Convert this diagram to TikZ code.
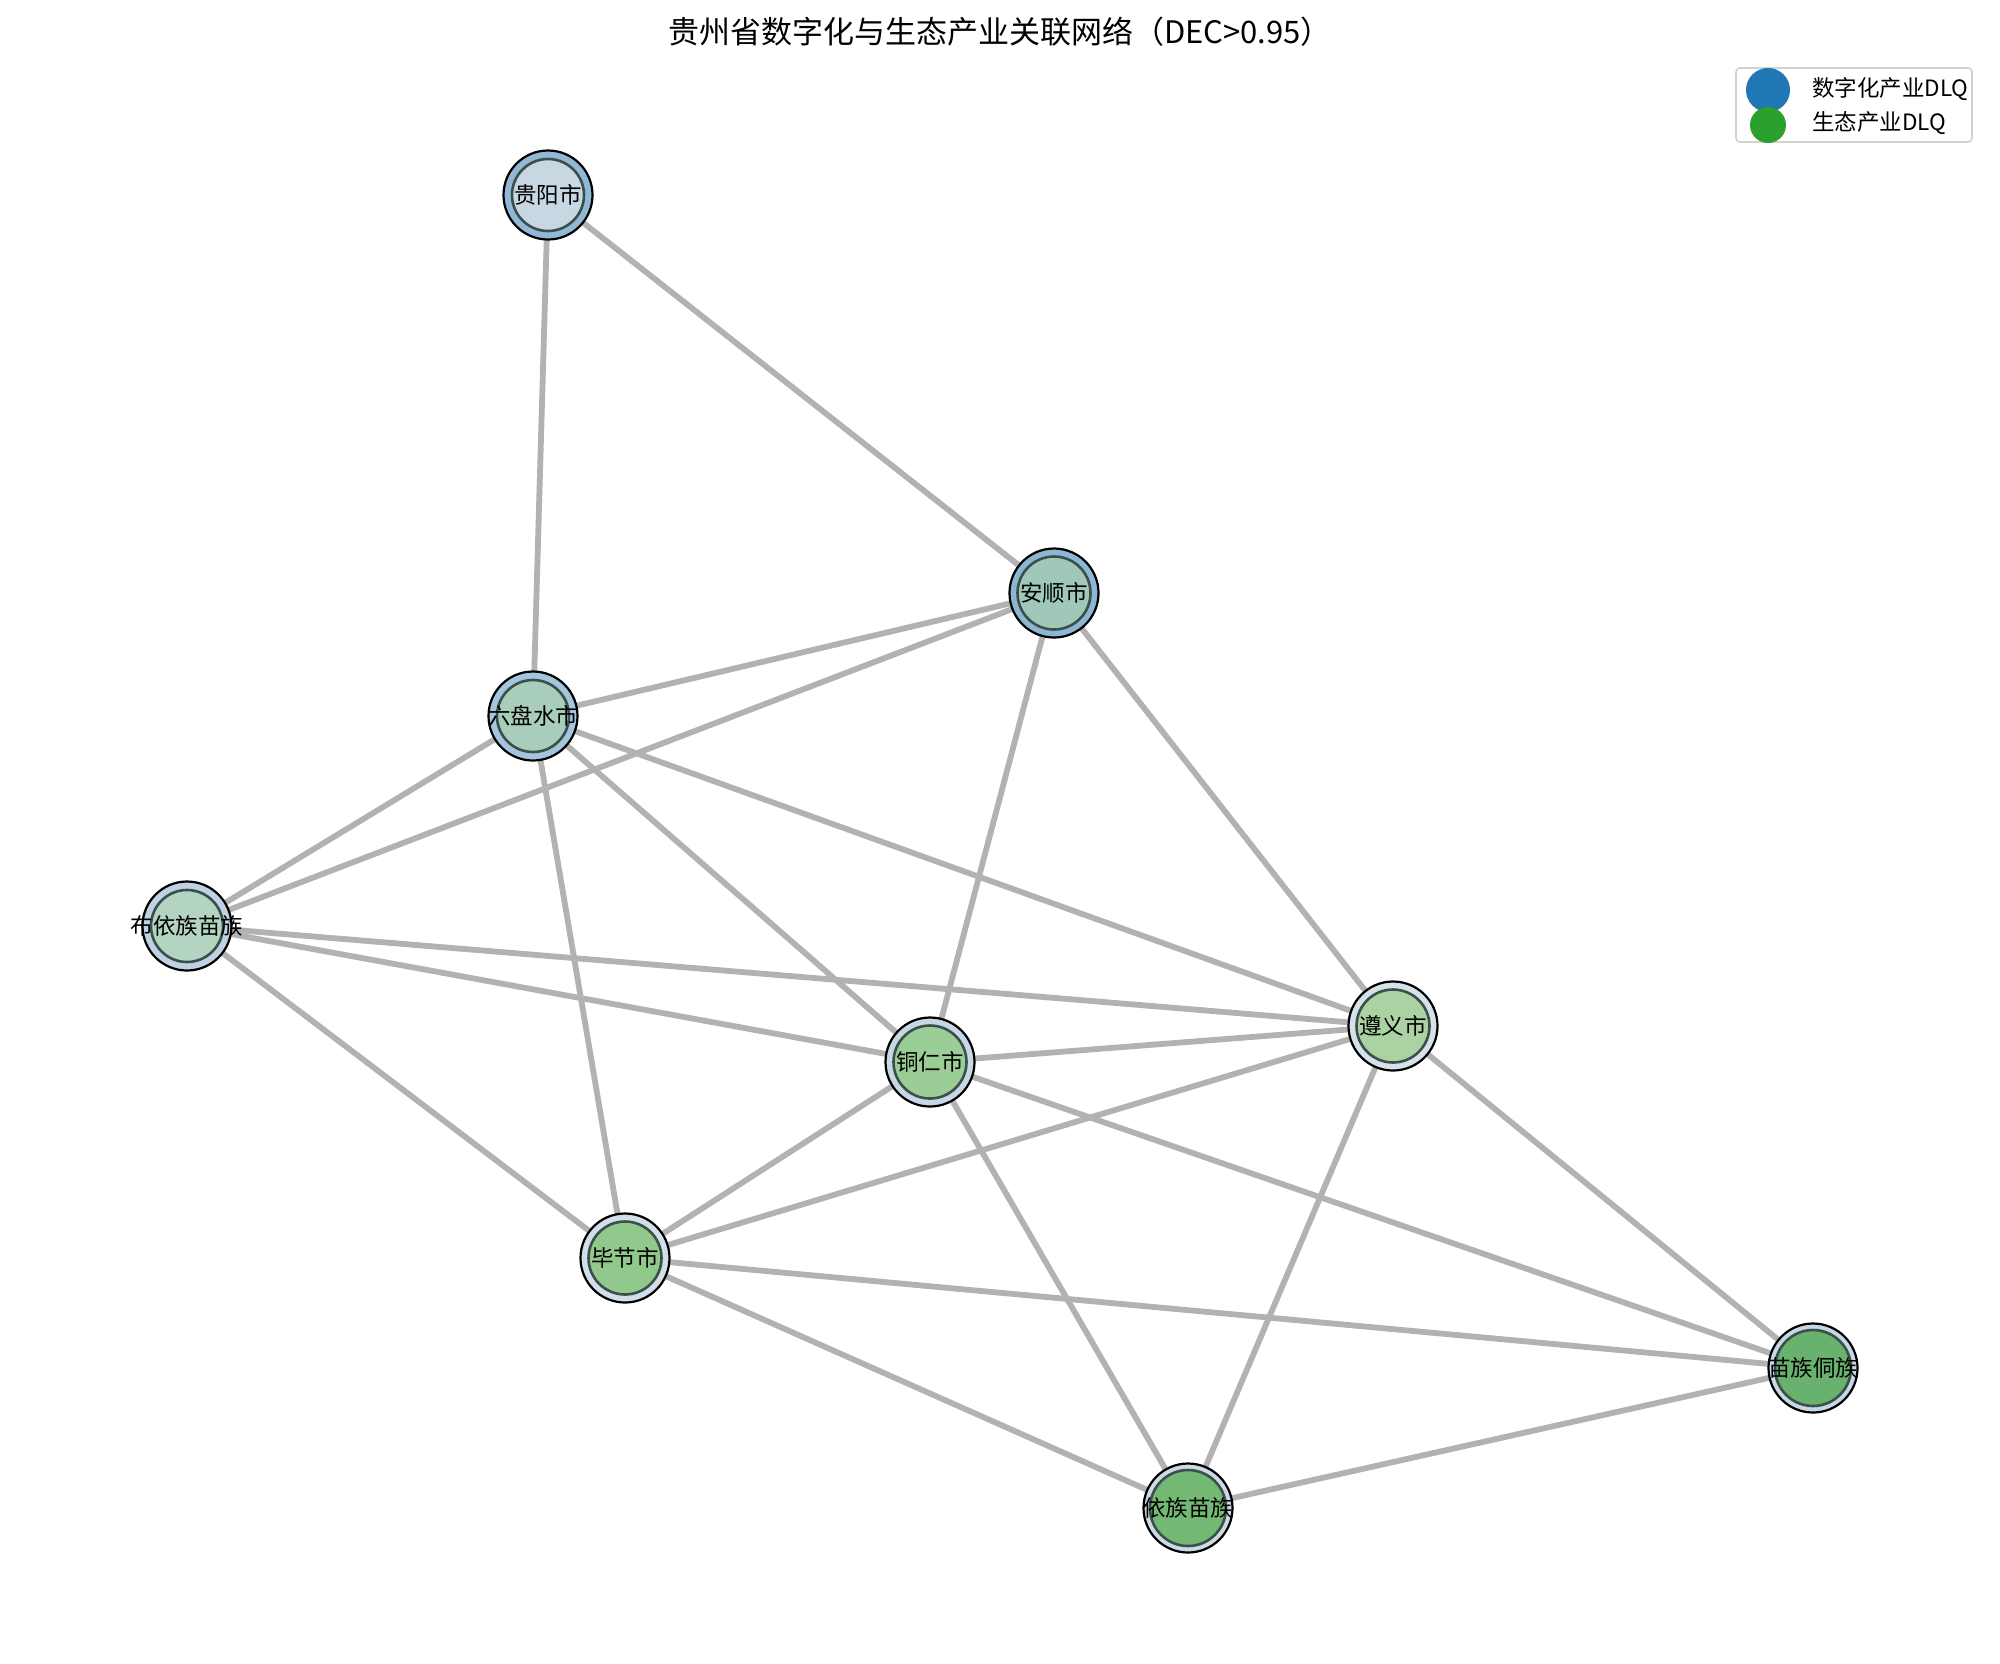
\documentclass[tikz,border=0pt]{standalone}
\usepackage{fontspec}
\newfontfamily\cjk{Noto Sans CJK SC}
\definecolor{edgegray}{RGB}{178,178,178}
\definecolor{inneredge}{RGB}{60,80,75}
\definecolor{legblue}{RGB}{31,119,180}
\definecolor{leggreen}{RGB}{44,160,44}
\definecolor{legframe}{RGB}{210,210,210}
% outer / inner colours per node
\definecolor{oGY}{RGB}{145,184,214}\definecolor{iGY}{RGB}{200,215,225}
\definecolor{oAS}{RGB}{140,182,212}\definecolor{iAS}{RGB}{160,200,185}
\definecolor{oLP}{RGB}{165,197,222}\definecolor{iLP}{RGB}{168,205,187}
\definecolor{oBY}{RGB}{190,210,228}\definecolor{iBY}{RGB}{178,212,192}
\definecolor{oZY}{RGB}{215,225,233}\definecolor{iZY}{RGB}{170,210,162}
\definecolor{oTR}{RGB}{200,215,228}\definecolor{iTR}{RGB}{155,205,150}
\definecolor{oBJ}{RGB}{210,222,232}\definecolor{iBJ}{RGB}{145,200,140}
\definecolor{oMD}{RGB}{200,215,228}\definecolor{iMD}{RGB}{105,178,110}
\definecolor{oYM}{RGB}{205,218,230}\definecolor{iYM}{RGB}{115,185,115}
\tikzset{
  outerc/.style={circle,draw=black,line width=2.2pt,minimum size=89pt,inner sep=0pt},
  innerc/.style={circle,draw=inneredge,line width=2.6pt,minimum size=#1,inner sep=0pt},
  innerc/.default=72pt,
  lbl/.style={inner sep=0pt,font=\cjk\fontsize{22.5}{26}\selectfont,text=black},
  link/.style={draw=edgegray,line width=5.8pt},
}
\begin{document}
\begin{tikzpicture}[x=1pt,y=-1pt]
\useasboundingbox (0,0) rectangle (2000,1663);
\fill[white] (0,0) rectangle (2000,1663);
\node[font=\cjk\fontsize{31}{36}\selectfont] (title) at (1000,32) {贵州省数字化与生态产业关联网络（DEC>0.95）};
% node positions
\coordinate (GY) at (548,195);
\coordinate (AS) at (1054,593);
\coordinate (LP) at (533,716);
\coordinate (BY) at (187,926);
\coordinate (ZY) at (1393,1026);
\coordinate (TR) at (930,1062);
\coordinate (BJ) at (625,1258);
\coordinate (MD) at (1813,1368);
\coordinate (YM) at (1188,1508);
% edges
\foreach \a/\b in {GY/LP,GY/AS,AS/LP,AS/BY,AS/TR,AS/ZY,LP/BY,LP/TR,LP/ZY,LP/BJ,BY/ZY,BY/TR,BY/BJ,TR/ZY,TR/BJ,TR/YM,TR/MD,ZY/BJ,ZY/YM,ZY/MD,BJ/MD,BJ/YM,MD/YM}
  \draw[link] (\a) -- (\b);
% nodes on top
\foreach \n/\c/\ic/\r/\t in {GY/oGY/iGY/72/贵阳市,AS/oAS/iAS/73/安顺市,LP/oLP/iLP/72/六盘水市,BY/oBY/iBY/72/布依族苗族,ZY/oZY/iZY/73/遵义市,TR/oTR/iTR/73/铜仁市,BJ/oBJ/iBJ/73/毕节市,MD/oMD/iMD/76/苗族侗族,YM/oYM/iYM/76/依族苗族}{
  \node[outerc,fill=\c] (\n o) at (\n) {};
  \node[innerc=\r pt,fill=\ic] (\n i) at (\n) {};
  \node[lbl] (\n t) at (\n) {\t};
}
% legend
\node[draw=legframe,line width=1.6pt,rounded corners=4pt,minimum width=236pt,minimum height=74pt,inner sep=0pt,fill=white] (legbox) at (1854,105) {};
\node[circle,fill=legblue,minimum size=44pt,inner sep=0pt] (legb) at (1768,90) {};
\node[circle,fill=leggreen,minimum size=36pt,inner sep=0pt] (legg) at (1768,125) {};
\node[lbl,anchor=west] (legbt) at (1812,89) {数字化产业DLQ};
\node[lbl,anchor=west] (leggt) at (1812,123) {生态产业DLQ};
\end{tikzpicture}
\end{document}
